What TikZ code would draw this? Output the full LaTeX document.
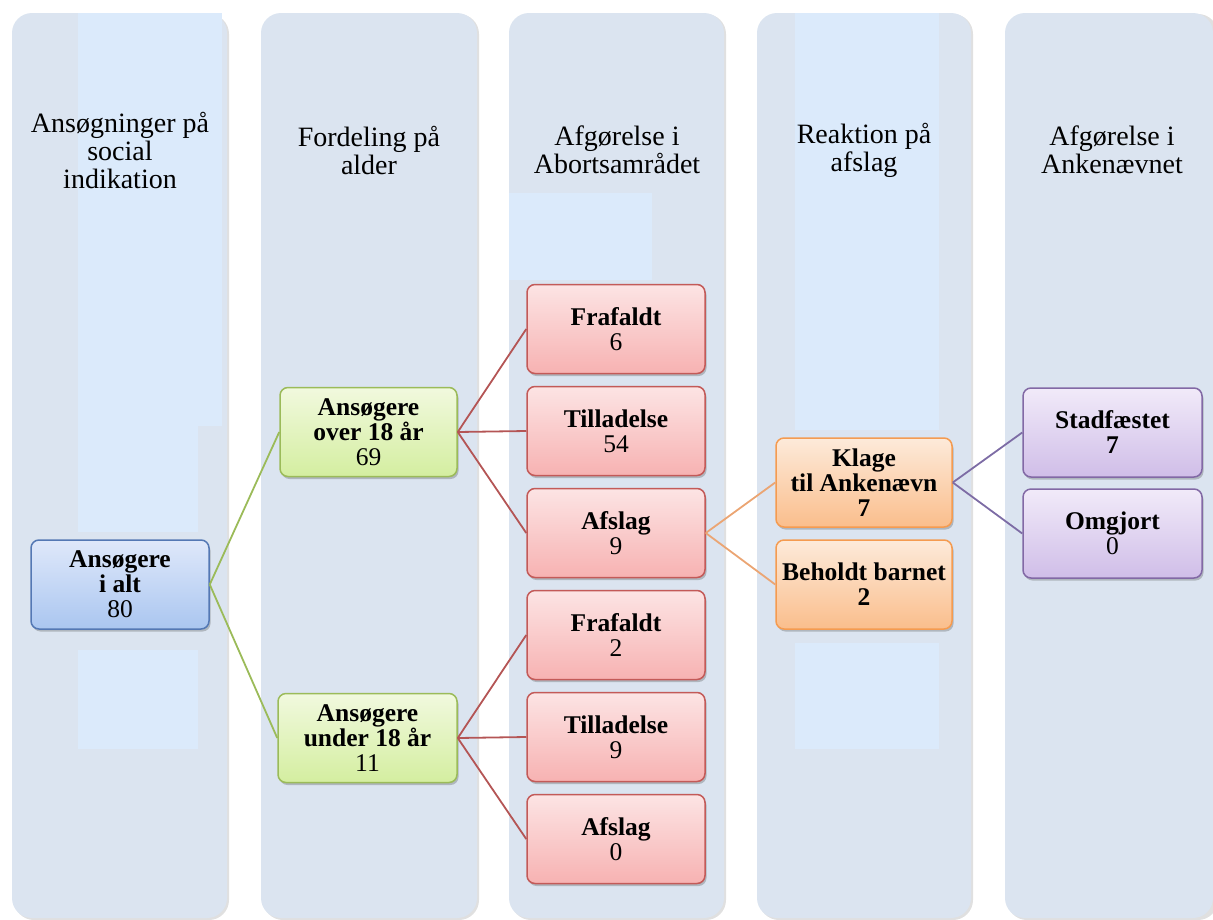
\documentclass[tikz,border=0pt]{standalone}
\usepackage{fontspec}
\setmainfont{Liberation Serif}
\usetikzlibrary{shadows}
\definecolor{colbg}{RGB}{219,228,240}
\definecolor{patch}{RGB}{219,234,251}
\definecolor{bluet}{RGB}{223,232,250}
\definecolor{blueb}{RGB}{170,198,240}
\definecolor{bluebd}{RGB}{84,120,180}
\definecolor{greent}{RGB}{241,249,222}
\definecolor{greenb}{RGB}{212,238,160}
\definecolor{greenbd}{RGB}{155,187,89}
\definecolor{redt}{RGB}{252,228,228}
\definecolor{redb}{RGB}{247,178,178}
\definecolor{redbd}{RGB}{195,90,88}
\definecolor{oranget}{RGB}{253,234,218}
\definecolor{orangeb}{RGB}{250,190,140}
\definecolor{orangebd}{RGB}{245,155,80}
\definecolor{purplet}{RGB}{241,234,249}
\definecolor{purpleb}{RGB}{208,190,232}
\definecolor{purplebd}{RGB}{130,105,165}
\definecolor{lgreen}{RGB}{155,187,89}
\definecolor{lred}{RGB}{180,85,85}
\definecolor{lorange}{RGB}{235,165,115}
\definecolor{lpurple}{RGB}{125,108,165}
\tikzset{
  colbox/.style={fill=colbg, draw=none, rounded corners=20pt},
  colshadow/.style={fill=black!12, draw=none, rounded corners=20pt},
  patchbox/.style={fill=patch, draw=none},
  title/.style={align=center, font=\fontsize{28}{28}\selectfont, text=black},
  box/.style={rounded corners=8pt, minimum width=178pt, minimum height=89pt,
    inner sep=0pt, align=center, font=\fontsize{25.5}{25}\selectfont, line width=1.5pt,
    drop shadow={shadow xshift=1.5pt, shadow yshift=-2.5pt, opacity=0.3, fill=black!70}},
  bluebox/.style={box, draw=bluebd, top color=bluet, bottom color=blueb},
  greenbox/.style={box, draw=greenbd, top color=greent, bottom color=greenb},
  redbox/.style={box, draw=redbd, top color=redt, bottom color=redb},
  orangebox/.style={box, draw=orangebd, top color=oranget, bottom color=orangeb},
  purplebox/.style={box, draw=purplebd, top color=purplet, bottom color=purpleb},
  link/.style={line width=1.8pt},
}
\begin{document}
\begin{tikzpicture}[x=1pt, y=-1pt]
\useasboundingbox (0,0) rectangle (1213,919);
% column shadows
\foreach \l/\r in {12/227, 261/477, 509/724, 757/971, 1005/1216} {
  \fill[colshadow] (\l+2,14) rectangle (\r+2,920);
}
% columns
\fill[colbox] (12,13) rectangle (227,918);
\fill[colbox] (261,13) rectangle (477,918);
\fill[colbox] (509,13) rectangle (724,918);
\fill[colbox] (757,13) rectangle (971,918);
\fill[colbox] (1005,13) rectangle (1213,918);
% lighter patches
\fill[patchbox] (78,13) rectangle (222,426);
\fill[patchbox] (78,426) rectangle (198,532);
\fill[patchbox] (78,650) rectangle (198,749);
\fill[patchbox] (509,193) rectangle (652,280);
\fill[patchbox] (795,13) rectangle (939,430);
\fill[patchbox] (795,643) rectangle (939,749);
% titles
\node[title] (t1) at (120,150) {Ansøgninger på\\social\\indikation};
\node[title] (t2) at (369,150) {Fordeling på\\alder};
\node[title] (t3) at (617,150) {Afgørelse i\\Abortsamrådet};
\node[title] (t4) at (864,150) {Reaktion på\\afslag};
\node[title] (t5) at (1112,150) {Afgørelse i\\Ankenævnet};
% nodes
\node[bluebox] (alt) at (120,584.5) {\textbf{Ansøgere}\\\textbf{i alt}\\80};
\node[greenbox, minimum width=177pt] (over) at (368.5,432) {\textbf{Ansøgere}\\\textbf{over 18 år}\\69};
\node[greenbox, minimum width=179pt] (under) at (367.5,738) {\textbf{Ansøgere}\\\textbf{under 18 år}\\11};
\node[redbox] (f1) at (616,329) {\textbf{Frafaldt}\\6};
\node[redbox] (t1b) at (616,431) {\textbf{Tilladelse}\\54};
\node[redbox] (a1) at (616,533) {\textbf{Afslag}\\9};
\node[redbox] (f2) at (616,635) {\textbf{Frafaldt}\\2};
\node[redbox] (t2b) at (616,737) {\textbf{Tilladelse}\\9};
\node[redbox] (a2) at (616,839) {\textbf{Afslag}\\0};
\node[orangebox, minimum width=176pt] (klage) at (864,482.5) {\textbf{Klage}\\\textbf{til Ankenævn}\\\textbf{7}};
\node[orangebox, minimum width=176pt] (behold) at (864,584.5) {\textbf{Beholdt barnet}\\\textbf{2}};
\node[purplebox, minimum width=179pt] (stad) at (1112.5,432.5) {\textbf{Stadfæstet}\\\textbf{7}};
\node[purplebox, minimum width=179pt] (omg) at (1112.5,533.5) {\textbf{Omgjort}\\0};
% connectors
\draw[link, lgreen] (alt.east) -- (over.west);
\draw[link, lgreen] (alt.east) -- (under.west);
\draw[link, lred] (over.east) -- (f1.west);
\draw[link, lred] (over.east) -- (t1b.west);
\draw[link, lred] (over.east) -- (a1.west);
\draw[link, lred] (under.east) -- (f2.west);
\draw[link, lred] (under.east) -- (t2b.west);
\draw[link, lred] (under.east) -- (a2.west);
\draw[link, lorange] (a1.east) -- (klage.west);
\draw[link, lorange] (a1.east) -- (behold.west);
\draw[link, lpurple] (klage.east) -- (stad.west);
\draw[link, lpurple] (klage.east) -- (omg.west);
\end{tikzpicture}
\end{document}
